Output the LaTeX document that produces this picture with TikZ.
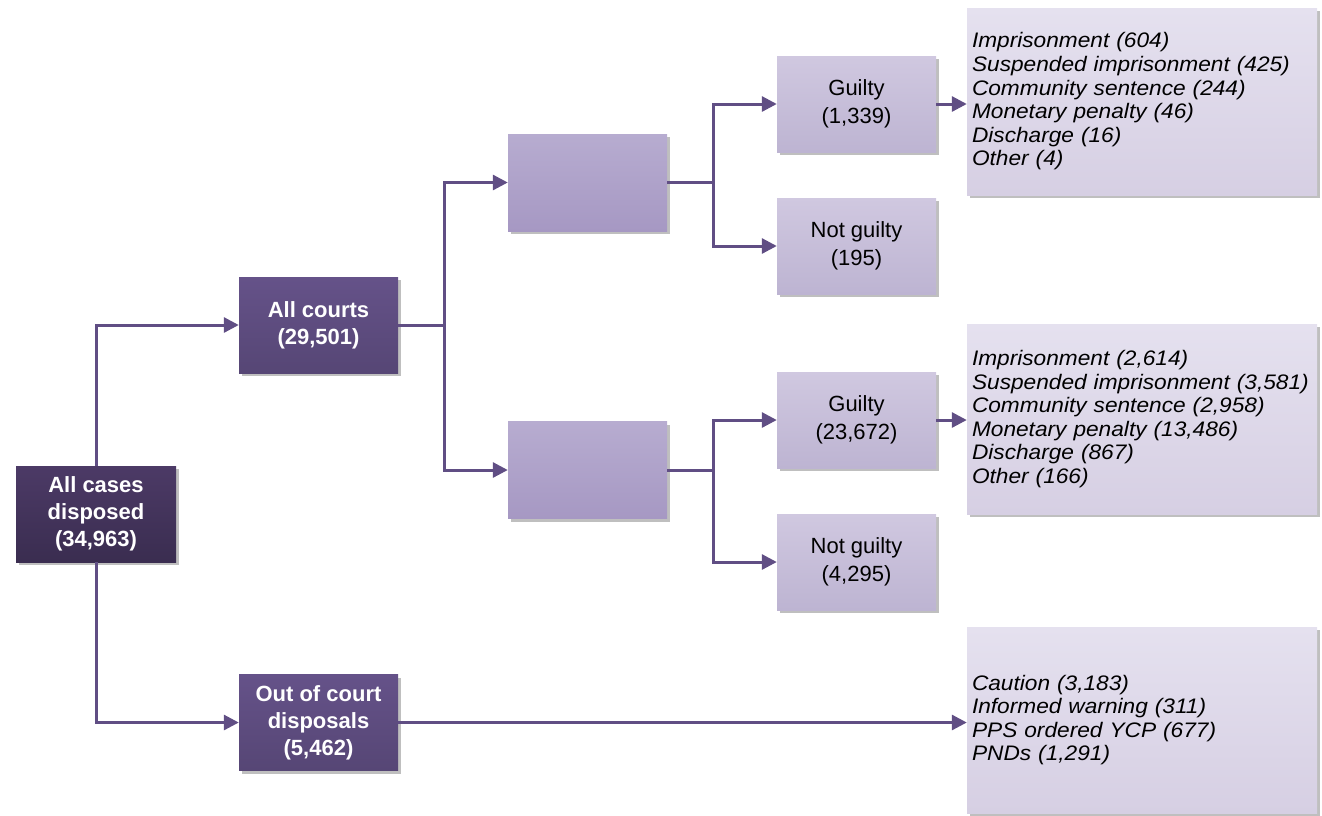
\documentclass[tikz,border=0pt]{standalone}
\usepackage{fontspec}
\setmainfont{Liberation Sans}
\newfontfamily\listfont[FakeStretch=1.08]{Liberation Sans}
\usepackage{tikz}
\usetikzlibrary{arrows.meta}
\usetikzlibrary{shadows}

\definecolor{linkpurple}{RGB}{96,78,132}
\definecolor{rootA}{RGB}{76,58,102}
\definecolor{rootB}{RGB}{58,45,80}
\definecolor{darkA}{RGB}{101,82,137}
\definecolor{darkB}{RGB}{86,70,117}
\definecolor{midA}{RGB}{183,172,208}
\definecolor{midB}{RGB}{166,152,195}
\definecolor{lightA}{RGB}{208,200,224}
\definecolor{lightB}{RGB}{189,180,210}
\definecolor{listA}{RGB}{229,225,239}
\definecolor{listB}{RGB}{214,207,227}

\tikzset{
  box/.style={rectangle, inner sep=0pt, align=center,
    drop shadow={shadow xshift=3pt, shadow yshift=-3pt, fill=black!25, opacity=1}},
  rootbox/.style={box, top color=rootA, bottom color=rootB, text=white,
    minimum width=160pt, minimum height=96pt, font=\fontsize{22}{27}\selectfont\bfseries},
  darkbox/.style={box, top color=darkA, bottom color=darkB, text=white,
    minimum width=159pt, minimum height=96pt, font=\fontsize{22}{27}\selectfont\bfseries},
  midbox/.style={box, top color=midA, bottom color=midB,
    minimum width=159pt, minimum height=97pt},
  lightbox/.style={box, top color=lightA, bottom color=lightB,
    minimum width=159pt, minimum height=96pt, font=\fontsize{22}{28}\selectfont},
  listbox/.style={box, top color=listA, bottom color=listB, align=left,
    text width=340pt, inner xsep=5pt, font=\listfont\fontsize{21}{23.6}\selectfont\itshape},
  link/.style={draw=linkpurple, line width=3pt, -{Triangle[length=15pt,width=15pt]}},
  joint/.style={draw=linkpurple, line width=3pt}
}

\begin{document}
\begin{tikzpicture}[x=1pt,y=-1pt]
  \useasboundingbox (0,0) rectangle (1322,815);

  % left column
  \node[rootbox] (cases) at (96,514) {All cases\\disposed\\(34,963)};
  \node[darkbox] (courts) at (318.5,325) {All courts\\(29,501)};
  \node[darkbox] (ooc) at (318.5,722.5) {Out of court\\disposals\\(5,462)};

  % court branches
  \node[midbox] (upper) at (587.5,182.5) {};
  \node[midbox] (lower) at (587.5,470) {};

  \node[lightbox] (guiltyA) at (856.5,104) {Guilty\\(1,339)};
  \node[lightbox] (notguiltyA) at (856.5,246) {Not guilty\\(195)};
  \node[lightbox] (guiltyB) at (856.5,420) {Guilty\\(23,672)};
  \node[lightbox] (notguiltyB) at (856.5,562) {Not guilty\\(4,295)};

  % outcomes
  \node[listbox, minimum height=187pt] (sentA) at (1142,101.5) {Imprisonment (604)\\Suspended imprisonment (425)\\Community sentence (244)\\Monetary penalty (46)\\Discharge (16)\\Other (4)};
  \node[listbox, minimum height=190pt] (sentB) at (1142,419) {Imprisonment (2,614)\\Suspended imprisonment (3,581)\\Community sentence (2,958)\\Monetary penalty (13,486)\\Discharge (867)\\Other (166)};
  \node[listbox, minimum height=186pt] (sentC) at (1142,720) {Caution (3,183)\\Informed warning (311)\\PPS ordered YCP (677)\\PNDs (1,291)};

  % forks
  \coordinate (courtsfork) at (444,325);
  \coordinate (upperfork) at (713,182.5);
  \coordinate (lowerfork) at (713,470);

  \draw[link] (cases.north) |- (courts.west);
  \draw[link] (cases.south) |- (ooc.west);

  \draw[joint] (courts.east) -- (courtsfork);
  \draw[link] (courtsfork) |- (upper.west);
  \draw[link] (courtsfork) |- (lower.west);

  \draw[joint] (upper.east) -- (upperfork);
  \draw[link] (upperfork) |- (guiltyA.west);
  \draw[link] (upperfork) |- (notguiltyA.west);
  \draw[joint] (lower.east) -- (lowerfork);
  \draw[link] (lowerfork) |- (guiltyB.west);
  \draw[link] (lowerfork) |- (notguiltyB.west);

  \draw[link] (guiltyA.east) -- (guiltyA.east -| sentA.west);
  \draw[link] (guiltyB.east) -- (guiltyB.east -| sentB.west);
  \draw[link] (ooc.east) -- (ooc.east -| sentC.west);
\end{tikzpicture}
\end{document}
